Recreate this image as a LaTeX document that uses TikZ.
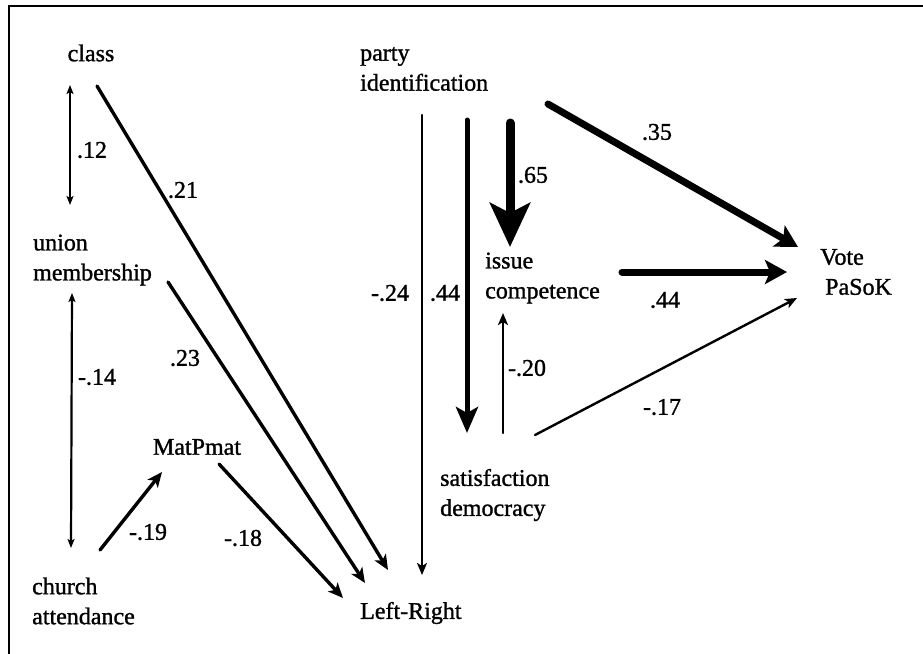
\documentclass[tikz,border=0pt]{standalone}
\usepackage{fontspec}
\setmainfont{Liberation Serif}[FakeBold=1.2]
\usetikzlibrary{arrows.meta,calc}
\begin{document}
\begin{tikzpicture}[x=1pt,y=-1pt,
  txt/.style={inner sep=0pt, align=left, font=\fontsize{24}{30}\selectfont},
  coef/.style={inner sep=0pt, font=\fontsize{24}{30}\selectfont},
  conn/.style={line cap=round},
  wthin/.style={conn, line width=2.4pt, -{Stealth[length=12pt,width=10pt,inset=3pt]}},
  wboth/.style={conn, line width=2.2pt, {Stealth[length=9pt,width=7pt,inset=2pt]}-{Stealth[length=9pt,width=7pt,inset=2pt]}},
  wmed/.style={conn, line width=3.4pt, -{Stealth[length=15pt,width=13pt,inset=4pt]}},
  wthick/.style={conn, line width=5pt, -{Stealth[length=26pt,width=22pt,inset=6pt]}},
  wheavy/.style={conn, line width=7pt, -{Stealth[length=22pt,width=24pt,inset=5pt]}},
  wmax/.style={conn, line width=9pt, -{Stealth[length=44pt,width=40pt,inset=10pt]}}
]
\useasboundingbox (0,0) rectangle (923,653);
\draw[line width=2.5pt] (9,660) -- (9,6) -- (930,6);

% variables
\node[txt] (class) at (91,53) {class};
\node[txt, anchor=west] (union) at (33,260) {union\\membership};
\node[txt, anchor=west] (church) at (32,601) {church\\attendance};
\node[txt] (matp) at (197,447) {MatPmat};
\node[txt, anchor=west] (lr) at (360,613) {Left-Right};
\node[txt, anchor=west] (party) at (360,69) {party\\identification};
\node[txt, anchor=west] (issue) at (485,278) {issue\\competence};
\node[txt, anchor=west] (satis) at (440,495) {satisfaction\\democracy};
\node[txt, anchor=west] (vote) at (820,272) {Vote\\\hspace*{5pt}PaSoK};

% connectors
\draw[wboth] ($(class)+(-21,32)$) -- ($(union.west)+(37,-55)$);
\draw[wboth] ($(union.west)+(39,33)$) -- ($(church.west)+(39,-53)$);
\draw[wmed] ($(class)+(6,33)$) -- ($(lr.west)+(28,-43)$);
\draw[wmed] ($(union.west)+(135,22)$) -- ($(lr.west)+(5,-30)$);
\draw[wmed] ($(church.west)+(68,-51)$) -- ($(matp)+(-35,25)$);
\draw[wmed] ($(matp)+(22,17)$) -- ($(lr.west)+(-17,-15)$);
\draw[wthin] ($(party.west)+(62,46)$) -- ($(lr.west)+(62,-38)$);
\draw[wthick] ($(party.west)+(107,51)$) -- ($(satis.west)+(27,-62)$);
\draw[wmax] ($(party.west)+(150,54)$) -- ($(issue.west)+(25,-31)$);
\draw[wheavy] ($(party.west)+(188,35)$) -- ($(vote.west)+(-22,-25)$);
\draw[wheavy] ($(issue.west)+(137,-6)$) -- ($(vote.west)+(-33,0)$);
\draw[wthin] ($(satis.west)+(95,-60)$) -- ($(vote.west)+(-23,26)$);
\draw[wthin] ($(satis.west)+(63,-62)$) -- ($(issue.west)+(18,35)$);

% coefficients
\node[coef] (c12) at (92,150) {.12};
\node[coef] (c14) at (97,377) {-.14};
\node[coef] (c21) at (183,190) {.21};
\node[coef] (c23) at (185,358) {.23};
\node[coef] (c19) at (148,532) {-.19};
\node[coef] (c18) at (243,538) {-.18};
\node[coef] (c24) at (390,293) {-.24};
\node[coef] (c44a) at (445,293) {.44};
\node[coef] (c65) at (533,175) {.65};
\node[coef] (c35) at (657,132) {.35};
\node[coef] (c44b) at (665,300) {.44};
\node[coef] (c17) at (662,407) {-.17};
\node[coef] (c20) at (527,368) {-.20};
\end{tikzpicture}
\end{document}
